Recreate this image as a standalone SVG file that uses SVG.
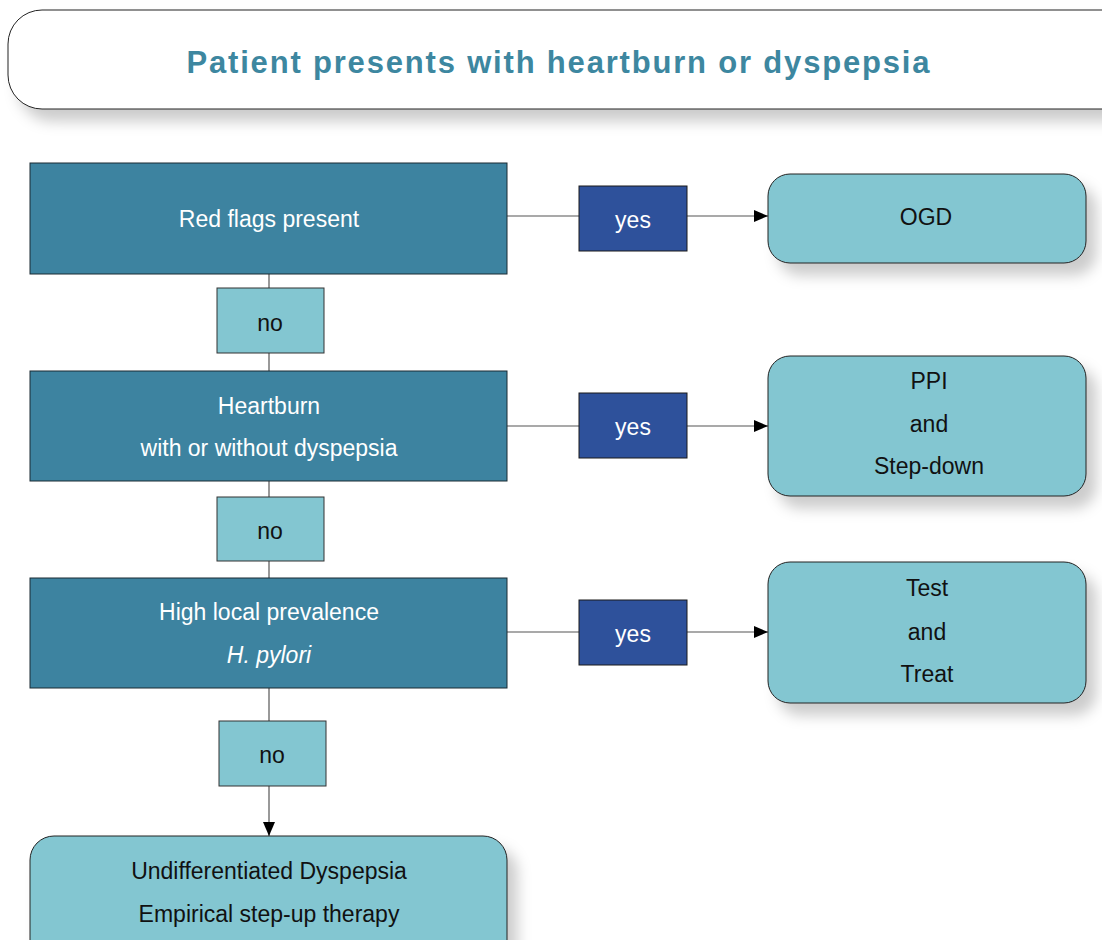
<svg xmlns="http://www.w3.org/2000/svg" width="1102" height="940" viewBox="0 0 1102 940">
<defs>
<filter id="sh" x="-10%" y="-10%" width="130%" height="140%">
<feDropShadow dx="10" dy="12" stdDeviation="7" flood-color="#000" flood-opacity="0.2"/>
</filter>
<marker id="ah" viewBox="0 0 14 12" refX="14" refY="6" markerWidth="14" markerHeight="12" markerUnits="userSpaceOnUse" orient="auto">
<path d="M0,0 L14,6 L0,12 Z" fill="#000"/>
</marker>
</defs>
<style>
.q{fill:#3d83a0;stroke:#1a2a33;stroke-width:1}
.n{fill:#83c6d1;stroke:#333;stroke-width:1}
.y{fill:#2e519b;stroke:#1a1a1a;stroke-width:1}
.r{fill:#83c6d1;stroke:#222;stroke-width:1}
.t{font-family:"Liberation Sans",Arial,sans-serif;font-size:23px;text-anchor:middle}
.w{fill:#fff}
.k{fill:#111}
.c{stroke:#555;stroke-width:1.2;fill:none}
</style>
<g id="title">
<rect x="8" y="10" width="1130" height="99" rx="34" fill="#fff" stroke="#222" stroke-width="1" filter="url(#sh)"/>
<text x="558" y="73" font-family="'Liberation Sans',Arial,sans-serif" font-size="31" font-weight="bold" fill="#3d87a0" text-anchor="middle" textLength="743" lengthAdjust="spacing">Patient presents with heartburn or dyspepsia</text>
</g>
<g id="connectors">
<line class="c" x1="269" y1="274" x2="269" y2="288"/>
<line class="c" x1="269" y1="353" x2="269" y2="371"/>
<line class="c" x1="269" y1="481" x2="269" y2="497"/>
<line class="c" x1="269" y1="561" x2="269" y2="578"/>
<line class="c" x1="269" y1="688" x2="269" y2="721"/>
<line class="c" x1="269" y1="786" x2="269" y2="836" stroke="#222" marker-end="url(#ah)"/>
<line class="c" x1="507" y1="216" x2="579" y2="216"/>
<line class="c" x1="687" y1="216" x2="768" y2="216" stroke="#222" marker-end="url(#ah)"/>
<line class="c" x1="507" y1="426" x2="579" y2="426"/>
<line class="c" x1="687" y1="426" x2="768" y2="426" stroke="#222" marker-end="url(#ah)"/>
<line class="c" x1="507" y1="632" x2="579" y2="632"/>
<line class="c" x1="687" y1="632" x2="768" y2="632" stroke="#222" marker-end="url(#ah)"/>
</g>
<g id="q1"><rect class="q" x="30" y="163" width="477" height="111"/><text class="t w" x="269" y="227">Red flags present</text></g>
<g id="no1"><rect class="n" x="217" y="288" width="107" height="65"/><text class="t k" x="270" y="331">no</text></g>
<g id="q2"><rect class="q" x="30" y="371" width="477" height="110"/><text class="t w" x="269" y="414">Heartburn</text><text class="t w" x="269" y="456">with or without dyspepsia</text></g>
<g id="no2"><rect class="n" x="217" y="497" width="107" height="64"/><text class="t k" x="270" y="539">no</text></g>
<g id="q3"><rect class="q" x="30" y="578" width="477" height="110"/><text class="t w" x="269" y="620">High local prevalence</text><text class="t w" x="269" y="663" font-style="italic">H. pylori</text></g>
<g id="no3"><rect class="n" x="219" y="721" width="107" height="65"/><text class="t k" x="272" y="763">no</text></g>
<g id="end"><rect class="r" x="30" y="836" width="477" height="130" rx="24" filter="url(#sh)"/><text class="t k" x="269" y="879">Undifferentiated Dyspepsia</text><text class="t k" x="269" y="922">Empirical step-up therapy</text></g>
<g id="yes1"><rect class="y" x="579" y="186" width="108" height="65"/><text class="t w" x="633" y="228">yes</text></g>
<g id="yes2"><rect class="y" x="579" y="393" width="108" height="65"/><text class="t w" x="633" y="435">yes</text></g>
<g id="yes3"><rect class="y" x="579" y="600" width="108" height="65"/><text class="t w" x="633" y="642">yes</text></g>
<g id="ogd"><rect class="r" x="768" y="174" width="318" height="89" rx="22" filter="url(#sh)"/><text class="t k" x="926" y="225">OGD</text></g>
<g id="ppi"><rect class="r" x="768" y="356" width="318" height="140" rx="22" filter="url(#sh)"/><text class="t k" x="929" y="389">PPI</text><text class="t k" x="929" y="432">and</text><text class="t k" x="929" y="474">Step-down</text></g>
<g id="tt"><rect class="r" x="768" y="562" width="318" height="141" rx="22" filter="url(#sh)"/><text class="t k" x="927" y="596">Test</text><text class="t k" x="927" y="640">and</text><text class="t k" x="927" y="682">Treat</text></g>
</svg>
